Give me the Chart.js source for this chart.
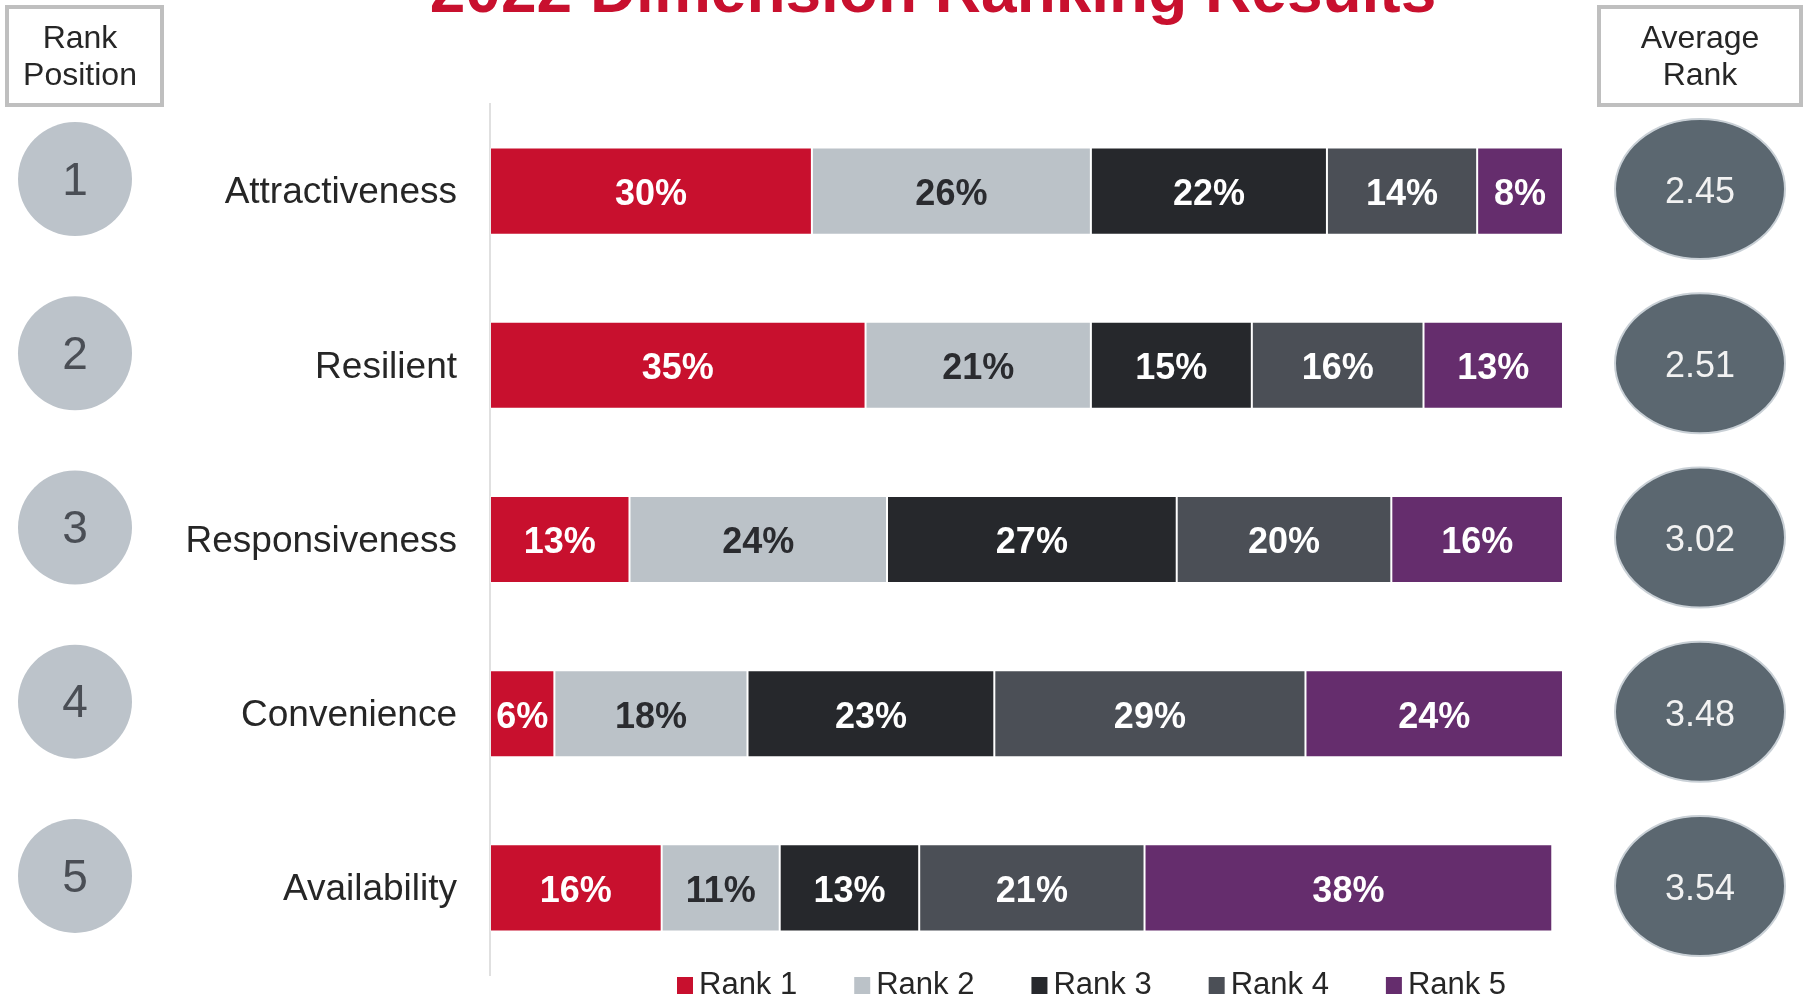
<!DOCTYPE html>
<html>
<head>
<meta charset="utf-8">
<title>2022 Dimension Ranking Results</title>
<script src="https://cdn.jsdelivr.net/npm/chart.js@4"></script>
<style>
	html, body { margin: 0; padding: 0; background: #fff; }
	#wrap { position: relative; width: 1812px; height: 998px; }
</style>
</head>
<body>
<div id="wrap"><canvas id="rankChart"></canvas></div>
<script>
var dimensions = ['Attractiveness', 'Resilient', 'Responsiveness', 'Convenience', 'Availability'];
var rank1 = [30, 35, 13, 6, 16];
var rank2 = [26, 21, 24, 18, 11];
var rank3 = [22, 15, 27, 23, 13];
var rank4 = [14, 16, 20, 29, 21];
var rank5 = [8, 13, 16, 24, 38];
var rankPositions = ['1', '2', '3', '4', '5'];
var averageRank = ['2.45', '2.51', '3.02', '3.48', '3.54'];
var seriesNames = ['Rank 1', 'Rank 2', 'Rank 3', 'Rank 4', 'Rank 5'];

var colors = ['#C8102E', '#BBC2C8', '#26282C', '#4B4F56', '#652D6D'];
var labelColors = ['#ffffff', '#2a2b2f', '#ffffff', '#ffffff', '#ffffff'];
var FONT = "'Liberation Sans', Arial, sans-serif";

function makeSet(i, values){
	return {
		label: seriesNames[i],
		data: values,
		backgroundColor: colors[i],
		borderColor: 'rgba(255,255,255,0.35)',
		borderWidth: 1,
		borderSkipped: false,
		barPercentage: 0.5,
		categoryPercentage: 1.0
	};
}

// percentages written in the middle of each segment
var segmentLabels = {
	id: 'segmentLabels',
	afterDatasetsDraw: function(chart){
		var ctx = chart.ctx;
		ctx.save();
		ctx.font = 'bold 36px ' + FONT;
		ctx.textAlign = 'center';
		ctx.textBaseline = 'middle';
		chart.data.datasets.forEach(function(ds, i){
			var meta = chart.getDatasetMeta(i);
			meta.data.forEach(function(bar, j){
				var p = bar.getProps(['x', 'y', 'base'], true);
				ctx.fillStyle = labelColors[i];
				ctx.fillText(ds.data[j] + '%', (p.x + p.base) / 2, p.y + 4);
			});
		});
		ctx.restore();
	}
};

function headerBox(ctx, x, y, w, h, lines, cx){
	ctx.strokeStyle = '#BFBFBF';
	ctx.lineWidth = 4;
	ctx.strokeRect(x, y, w, h);
	ctx.fillStyle = '#262626';
	ctx.font = '32px ' + FONT;
	ctx.textAlign = 'center';
	ctx.textBaseline = 'middle';
	ctx.fillText(lines[0], cx, 39);
	ctx.fillText(lines[1], cx, 76);
}

// title, header boxes, rank circles, average rank bubbles and legend
var decorations = {
	id: 'decorations',
	afterDraw: function(chart){
		var ctx = chart.ctx;
		var yScale = chart.scales.y;
		ctx.save();

		ctx.fillStyle = '#C8102E';
		ctx.font = 'bold 64px ' + FONT;
		ctx.textAlign = 'center';
		ctx.textBaseline = 'alphabetic';
		ctx.fillText('2022 Dimension Ranking Results', 933, 12);

		headerBox(ctx, 7, 7, 155, 98, ['Rank', 'Position'], 80);
		headerBox(ctx, 1599, 7, 202, 98, ['Average', 'Rank'], 1700);

		dimensions.forEach(function(d, i){
			var y = yScale.getPixelForValue(i);

			ctx.beginPath();
			ctx.ellipse(75, y - 12, 57, 57, 0, 0, Math.PI * 2);
			ctx.fillStyle = '#BCC3CA';
			ctx.fill();
			ctx.fillStyle = '#4A4E55';
			ctx.font = '46px ' + FONT;
			ctx.textAlign = 'center';
			ctx.textBaseline = 'middle';
			ctx.fillText(rankPositions[i], 75, y - 9);

			ctx.beginPath();
			ctx.ellipse(1700, y - 2, 85, 70, 0, 0, Math.PI * 2);
			ctx.fillStyle = '#5B6770';
			ctx.fill();
			ctx.strokeStyle = '#C9D0D6';
			ctx.lineWidth = 2;
			ctx.stroke();
			ctx.fillStyle = '#F2F2F2';
			ctx.font = '36px ' + FONT;
			ctx.fillText(averageRank[i], 1700, y + 2);
		});

		// legend
		ctx.font = '31px ' + FONT;
		ctx.textAlign = 'left';
		ctx.textBaseline = 'middle';
		var lx = 677, ly = 985;
		seriesNames.forEach(function(name, i){
			ctx.fillStyle = colors[i];
			ctx.fillRect(lx, ly - 8, 16, 17);
			ctx.fillStyle = '#262626';
			ctx.fillText(name, lx + 22, ly);
			lx += 22 + ctx.measureText(name).width + 57;
		});

		ctx.restore();
	}
};

var ctx = document.getElementById('rankChart').getContext('2d');
var chart = new Chart(ctx, {
	type: 'bar',
	data: {
		labels: dimensions,
		datasets: [
			makeSet(0, rank1),
			makeSet(1, rank2),
			makeSet(2, rank3),
			makeSet(3, rank4),
			makeSet(4, rank5)
		]
	},
	options: {
		indexAxis: 'y',
		responsive: true,
		maintainAspectRatio: false,
		animation: false,
		layout: { padding: { left: 0, right: 249, top: 104, bottom: 23 } },
		plugins: {
			legend: { display: false },
			tooltip: { enabled: false },
			title: { display: false }
		},
		scales: {
			x: {
				stacked: true,
				min: 0,
				max: 100,
				display: false
			},
			y: {
				stacked: true,
				grid: { display: false, drawTicks: false },
				border: { display: true, color: '#E0E0E0', width: 2 },
				ticks: {
					color: '#262626',
					padding: 33,
					labelOffset: 2,
					font: { family: FONT, size: 37 }
				},
				afterFit: function(scale){
					scale.width = 490;
					scale.paddingTop = 0;
					scale.paddingBottom = 0;
				}
			}
		}
	},
	plugins: [segmentLabels, decorations]
});
</script>
</body>
</html>
